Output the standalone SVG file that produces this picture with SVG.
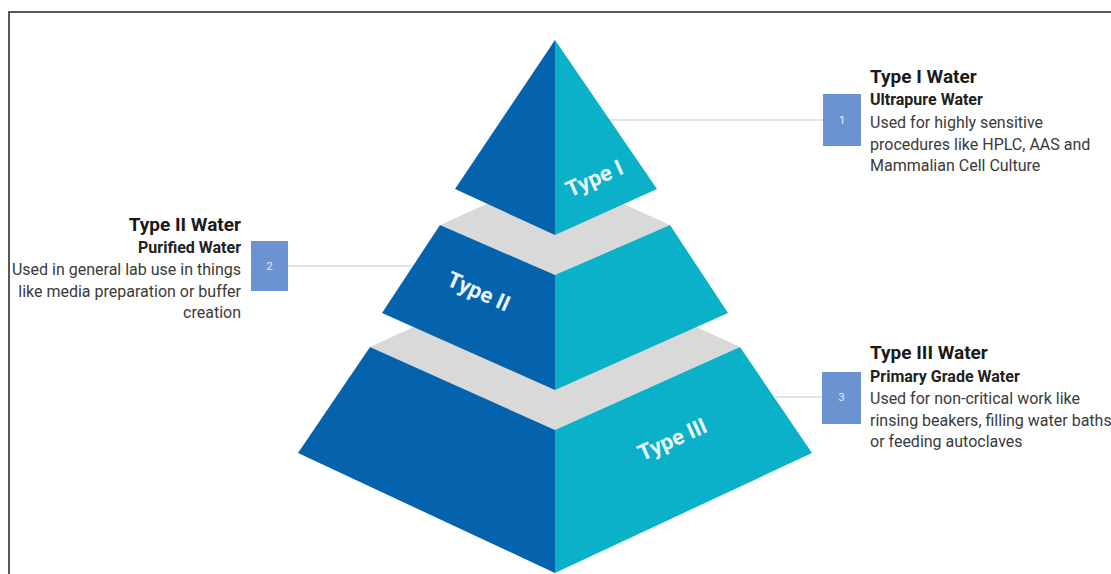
<svg xmlns="http://www.w3.org/2000/svg" width="1111" height="574" viewBox="0 0 1111 574">
<style>
.dark{fill:#0563ad}
.light{fill:#0bb0c9}
.gray{fill:#d9d9d9}
.lbl{font-family:Roboto,"Liberation Sans",sans-serif;font-weight:bold;font-size:22px;fill:#eaf6fa}
.box{fill:#6b93d0}
.num{font-family:Roboto,"Liberation Sans",sans-serif;font-size:11px;fill:#e8eefa;text-anchor:middle}
.h1{font-family:Roboto,"Liberation Sans",sans-serif;font-weight:bold;font-size:19px;fill:#1a1a1a}
.h2{font-family:Roboto,"Liberation Sans",sans-serif;font-weight:bold;font-size:16px;fill:#222}
.body{font-family:Roboto,"Liberation Sans",sans-serif;font-size:16px;fill:#3a3a3a}
.conn{stroke:#c8c8c8;stroke-width:1.2;fill:none}
</style>
<rect x="0" y="0" width="1111" height="574" fill="#ffffff"/>
<path d="M9 574 V12 H1111" fill="none" stroke="#222" stroke-width="1.5"/>
<g id="connectors">
<line class="conn" x1="608" y1="120" x2="823" y2="120"/>
<line class="conn" x1="288" y1="266" x2="412" y2="266"/>
<line class="conn" x1="775" y1="397" x2="822" y2="397"/>
</g>
<g id="tier3">
<polygon class="gray" points="370,347 555,262 740,347 555,430"/>
<polygon class="dark" points="370,347 555,430 555,573 298,453"/>
<polygon class="light" points="740,347 555,430 555,573 812,453"/>
<text class="lbl" transform="translate(673,441) rotate(-24)" text-anchor="middle" dominant-baseline="middle">Type III</text>
</g>
<g id="tier2">
<polygon class="gray" points="440,225 555,173 670,225 555,275"/>
<polygon class="dark" points="440,225 555,275 555,390 382,313"/>
<polygon class="light" points="670,225 555,275 555,390 728,313"/>
<text class="lbl" transform="translate(478,293) rotate(24)" text-anchor="middle" dominant-baseline="middle">Type II</text>
</g>
<g id="tier1">
<polygon class="dark" points="555,40 555,235 455,189"/>
<polygon class="light" points="555,40 555,235 657,189"/>
<text class="lbl" transform="translate(595,180) rotate(-24)" text-anchor="middle" dominant-baseline="middle">Type I</text>
</g>
<g id="callout1">
<rect class="box" x="823" y="94" width="38" height="52"/>
<text class="num" x="842" y="124">1</text>
<text class="h1" x="870" y="83">Type I Water</text>
<text class="h2" x="870" y="105">Ultrapure Water</text>
<text class="body" x="870" y="128">Used for highly sensitive</text>
<text class="body" x="870" y="150">procedures like HPLC, AAS and</text>
<text class="body" x="870" y="171">Mammalian Cell Culture</text>
</g>
<g id="callout2">
<rect class="box" x="251" y="241" width="37" height="50"/>
<text class="num" x="269.5" y="270">2</text>
<text class="h1" x="241" y="231" text-anchor="end">Type II Water</text>
<text class="h2" x="241" y="253" text-anchor="end">Purified Water</text>
<text class="body" x="241" y="275" text-anchor="end">Used in general lab use in things</text>
<text class="body" x="241" y="297" text-anchor="end">like media preparation or buffer</text>
<text class="body" x="241" y="318" text-anchor="end">creation</text>
</g>
<g id="callout3">
<rect class="box" x="822" y="372" width="39" height="52"/>
<text class="num" x="841.5" y="401">3</text>
<text class="h1" x="870" y="359">Type III Water</text>
<text class="h2" x="870" y="382">Primary Grade Water</text>
<text class="body" x="870" y="404">Used for non-critical work like</text>
<text class="body" x="870" y="426">rinsing beakers, filling water baths</text>
<text class="body" x="870" y="447">or feeding autoclaves</text>
</g>
</svg>
